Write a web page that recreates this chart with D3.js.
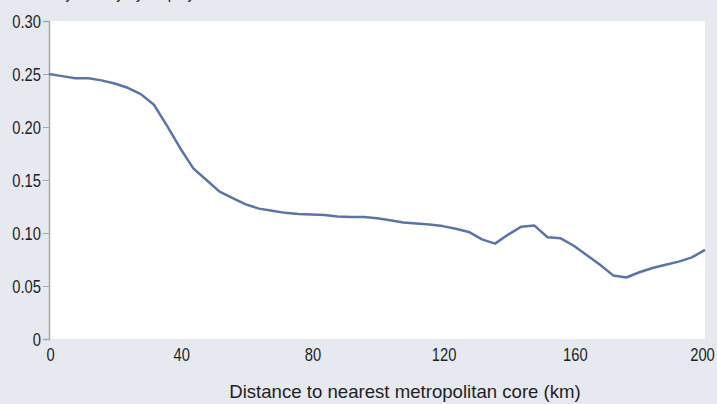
<!DOCTYPE html>
<html>
<head>
<meta charset="utf-8">
<script src="https://cdn.jsdelivr.net/npm/d3@7"></script>
<style>
  html, body { margin: 0; padding: 0; background: #e7e9f1; }
  svg { display: block; }
  text { font-family: "Liberation Sans", Arial, sans-serif; fill: #231f20; }
</style>
</head>
<body>
<svg id="chart" width="717" height="404"></svg>
<script>
const distanceKm = [0,4,8,12,16,20,24,28,32,36,40,44,48,52,56,60,64,68,72,76,80,84,88,92,96,100,104,108,112,116,120,124,128,132,136,140,144,148,152,156,160,164,168,172,176,180,184,188,192,196,200];
const density = [0.250,0.248,0.246,0.246,0.244,0.241,0.237,0.231,0.221,0.201,0.180,0.161,0.150,0.139,0.133,0.127,0.123,0.121,0.119,0.118,0.1175,0.117,0.1155,0.115,0.115,0.114,0.112,0.110,0.109,0.108,0.1065,0.104,0.101,0.094,0.090,0.0985,0.106,0.107,0.096,0.095,0.088,0.079,0.070,0.060,0.058,0.063,0.067,0.070,0.073,0.077,0.084];
const xTicks = [0,40,80,120,160,200];
const yTicks = [0,0.05,0.10,0.15,0.20,0.25,0.30];
const xTitle = "Distance to nearest metropolitan core (km)";
const topText = "Probability density by employment";

const svg = d3.select("#chart");
const mL = 49, mR = 705, mT = 21, mB = 339;
const SX = 0.82; // horizontal condensing of labels

const x = d3.scaleLinear().domain([0, 200]).range([mL, mR]);
const y = d3.scaleLinear().domain([0, 0.30]).range([mB, mT]);

svg.append("rect").attr("x", mL).attr("y", mT)
  .attr("width", mR - mL).attr("height", mB - mT).attr("fill", "#ffffff");

// clipped top text
svg.append("text").attr("transform", `translate(4,-2) scale(${SX},1)`)
  .attr("font-size", 18).text(topText);

// y axis
const yAxis = svg.append("g").attr("transform", `translate(${mL},0)`)
  .call(d3.axisLeft(y).tickValues(yTicks).tickSize(6)
    .tickFormat(d => d === 0 ? "0" : d3.format(".2f")(d)));
yAxis.select(".domain").attr("stroke", "#a7a9ac").attr("stroke-width", 1.5);
yAxis.selectAll(".tick line").attr("stroke", "#a7a9ac").attr("stroke-width", 1);
yAxis.selectAll(".tick text")
  .attr("x", null).attr("dy", null)
  .attr("transform", `translate(-8,6.5) scale(${SX},1)`)
  .attr("font-size", 18).attr("fill", "#231f20")
  .attr("font-family", '"Liberation Sans", Arial, sans-serif');

// x axis labels (no line, no ticks)
const xAxis = svg.append("g").attr("transform", `translate(0,${mB})`)
  .call(d3.axisBottom(x).tickValues(xTicks).tickSize(0).tickFormat(d3.format("d")));
xAxis.select(".domain").remove();
xAxis.selectAll(".tick text")
  .attr("y", null).attr("dy", null)
  .attr("transform", (d, i) => `translate(${i === xTicks.length - 1 ? -3 : 1},21.5) scale(${SX},1)`)
  .attr("font-size", 18).attr("fill", "#231f20")
  .attr("font-family", '"Liberation Sans", Arial, sans-serif');

const title = svg.append("text")
  .attr("text-anchor", "middle").attr("font-size", 18).text(xTitle);
const tw = title.node().getComputedTextLength();
const tScale = 352 / tw;
title.attr("transform", `translate(405,398) scale(${tScale},1)`);

const line = d3.line().x((d, i) => x(distanceKm[i])).y(d => y(d));
svg.append("path").datum(density).attr("d", line)
  .attr("fill", "none").attr("stroke", "#5b74a8").attr("stroke-width", 2.5)
  .attr("stroke-linejoin", "round");
</script>
</body>
</html>
